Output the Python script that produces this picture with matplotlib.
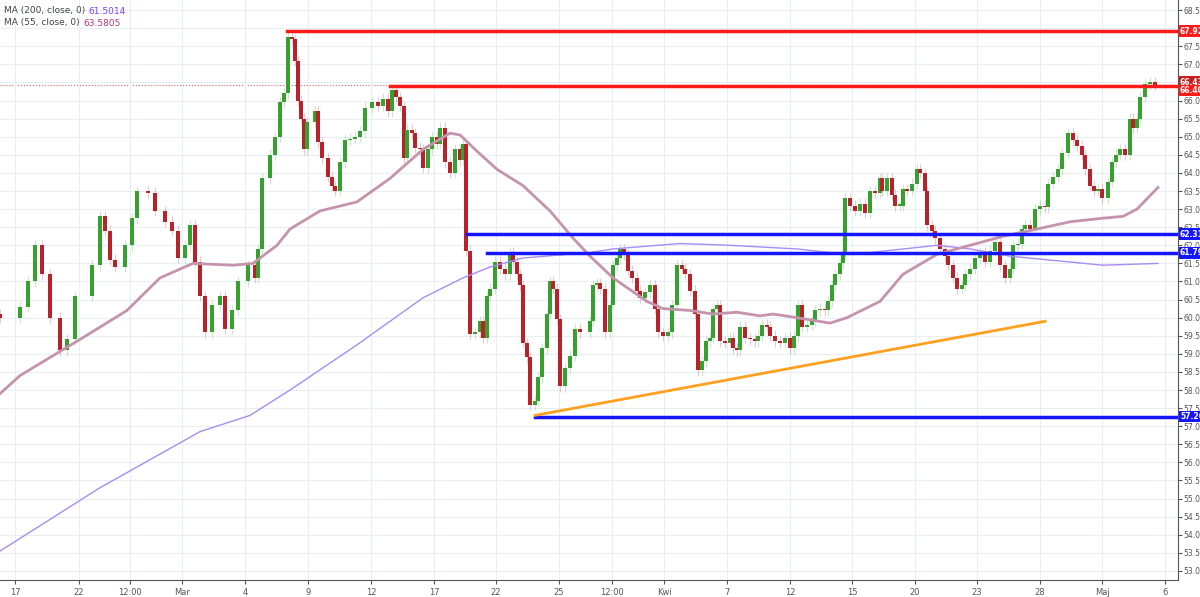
import matplotlib
matplotlib.use("Agg")
import matplotlib.pyplot as plt
import numpy as np

# bar times (chart time units, left to right) and closing prices
bar_t = [0, 20, 28, 35, 42, 50, 60, 67, 75, 92, 100, 105, 110, 115, 125, 132, 137, 148, 155,
         165, 172, 178, 185, 190, 195, 200, 205, 212, 220, 225, 232, 238, 248, 255, 258, 262,
         270, 275, 280, 284, 288, 292, 295, 298, 301, 304, 307, 315, 318, 322, 328, 332, 335,
         340, 345, 350, 355, 360, 365, 372, 378, 383, 388, 392, 396, 400, 404, 407, 412, 415,
         420, 423, 428, 432, 437, 440, 445, 450, 455, 460, 463, 466, 470, 475, 480, 483, 487,
         490, 495, 500, 505, 510, 513, 517, 520, 523, 527, 530, 535, 538, 542, 547, 550, 553,
         557, 560, 565, 570, 575, 580, 590, 593, 597, 600, 605, 610, 613, 617, 620, 624, 628,
         632, 637, 640, 645, 650, 655, 658, 663, 668, 672, 677, 682, 685, 690, 695, 698, 702,
         706, 710, 713, 717, 720, 725, 730, 733, 737, 740, 745, 750, 755, 758, 762, 767, 770,
         775, 780, 785, 790, 794, 798, 802, 807, 812, 815, 820, 825, 828, 832, 835, 840, 843,
         845, 850, 855, 860, 865, 870, 875, 880, 882, 887, 892, 895, 900, 903, 907, 912, 917,
         920, 925, 927, 932, 935, 940, 945, 948, 953, 957, 962, 965, 970, 975, 980, 985, 990,
         995, 1000, 1005, 1010, 1013, 1018, 1022, 1025, 1030, 1035, 1040, 1045, 1048, 1053,
         1058, 1062, 1068, 1073, 1077, 1082, 1085, 1090, 1094, 1098, 1102, 1108, 1112, 1116,
         1120, 1125, 1130, 1133, 1137, 1140, 1145, 1150, 1155]
closes = [60.0, 60.3, 61.0, 62.0, 61.2, 60.0, 59.1, 59.4, 60.6, 61.45, 62.8, 62.4, 61.6, 61.4,
          62.0, 62.75, 63.5, 63.45, 62.95, 62.65, 62.4, 61.65, 62.0, 62.55, 61.55, 60.6, 59.6,
          60.35, 60.6, 59.7, 60.2, 61.0, 61.45, 61.1, 61.9, 63.85, 64.5, 65.0, 65.95, 66.2,
          67.75, 67.7, 67.1, 66.0, 65.5, 64.65, 65.4, 65.7, 64.85, 64.4, 63.9, 63.65, 63.5,
          64.3, 64.9, 64.95, 65.0, 65.15, 65.8, 65.95, 65.85, 66.05, 65.7, 66.3, 66.1, 65.85,
          64.4, 65.2, 65.1, 64.7, 64.65, 64.15, 64.65, 65.0, 64.8, 65.25, 64.3, 64.0, 64.65,
          64.35, 64.8, 61.85, 59.55, 59.6, 59.9, 59.45, 60.6, 60.8, 61.55, 61.35, 61.2, 61.8,
          61.55, 61.2, 60.9, 59.3, 58.9, 57.6, 57.7, 58.35, 59.15, 60.1, 61.0, 60.8, 59.95,
          58.1, 58.6, 58.95, 59.7, 59.6, 59.9, 60.9, 60.95, 60.8, 59.6, 60.35, 61.45, 61.65,
          61.9, 61.75, 61.3, 61.1, 60.75, 60.55, 60.7, 60.9, 60.25, 59.6, 59.5, 59.6, 60.35,
          61.45, 61.35, 61.2, 60.75, 60.1, 58.55, 58.8, 59.35, 59.45, 60.25, 60.35, 59.35,
          59.3, 59.45, 59.15, 59.1, 59.75, 59.45, 59.4, 59.35, 59.5, 59.8, 59.75, 59.5, 59.35,
          59.3, 59.45, 59.15, 59.5, 60.35, 59.75, 59.8, 59.9, 60.2, 60.25, 60.2, 60.45, 60.9,
          61.2, 61.5, 61.8, 63.3, 63.1, 62.95, 63.15, 62.9, 63.5, 63.45, 63.85, 63.5, 63.85,
          63.4, 63.1, 63.1, 63.55, 63.5, 63.7, 64.1, 64.0, 63.5, 62.55, 62.4, 62.2, 61.9, 61.7,
          61.45, 61.1, 60.8, 60.9, 61.2, 61.35, 61.65, 61.8, 61.55, 61.85, 62.1, 61.45, 61.1,
          61.35, 62.0, 62.05, 62.45, 62.55, 62.45, 63.0, 63.1, 63.05, 63.7, 63.9, 64.1, 64.55,
          65.1, 64.9, 64.75, 64.5, 64.1, 63.65, 63.5, 63.55, 63.3, 63.75, 64.3, 64.5, 64.65,
          64.5, 65.5, 65.25, 65.5, 66.1, 66.45, 66.5, 66.43]
first_open = 60.1

# moving averages, sampled (time, value)
ma55_x = [0, 20, 83, 127, 160, 193, 233, 253, 277, 290, 320, 357, 390, 423, 450, 460, 477,
          497, 523, 550, 573, 590, 613, 647, 663, 690, 713, 737, 760, 773, 797, 830, 847,
          880, 903, 937, 970, 1003, 1037, 1070, 1103, 1123, 1137, 1158]
ma55_y = [57.9, 58.4, 59.45, 60.2, 61.1, 61.5, 61.45, 61.5, 62.0, 62.45, 62.95, 63.2, 63.85,
          64.65, 65.1, 65.05, 64.6, 64.1, 63.65, 62.95, 62.2, 61.7, 61.1, 60.45, 60.25, 60.2,
          60.1, 60.15, 60.05, 60.1, 60.0, 59.85, 60.0, 60.45, 61.2, 61.75, 62.0, 62.25, 62.45,
          62.65, 62.75, 62.8, 63.0, 63.6]
ma200_x = [0, 100, 200, 250, 290, 357, 423, 463, 490, 523, 590, 613, 680, 730, 797, 830,
           870, 937, 970, 1010, 1103, 1158]
ma200_y = [53.55, 55.3, 56.85, 57.3, 58.0, 59.25, 60.55, 61.1, 61.4, 61.65, 61.8, 61.9, 62.05,
           62.0, 61.9, 61.8, 61.8, 62.0, 61.9, 61.7, 61.45, 61.5]

levels = [67.92, 66.40, 62.31, 61.79, 57.26]
level_start = [287, 390, 467, 487, 535]
level_colors = ['#ff1a1a', '#ff1a1a', '#1515ff', '#1515ff', '#1515ff']
last_price = 66.43
trend_x = [535, 1045]
trend_y = [57.3, 59.9]

tick_t = [15, 79, 130, 182, 245, 308, 371, 434, 496, 559, 612, 664, 727, 790, 852, 915, 977,
          1040, 1102, 1165]
tick_labels = ['17', '22', '12:00', 'Mar', '4', '9', '12', '17', '22', '25', '12:00', 'Kwi',
               '7', '12', '15', '20', '23', '28', 'Maj', '6']

W, H = 1200, 597
fig = plt.figure(figsize=(W / 100, H / 100), dpi=100)
ax = fig.add_axes([0, 17 / H, 1178 / W, 580 / H])
ax.set_xlim(0, 1178)
ax.set_ylim(52.75, 68.78)

opens = [first_open] + closes[:-1]
green, red = '#37a12f', '#b8232b'
for x, o, c in zip(bar_t, opens, closes):
    col = green if c >= o else red
    lo, hi = min(o, c), max(o, c)
    ax.vlines(x, lo - 0.15, hi + 0.15, color=col, alpha=0.25, lw=0.8, zorder=2)
    ax.bar(x, max(hi - lo, 0.04), bottom=lo, width=3.2, color=col, lw=0, zorder=3)

ax.plot(ma200_x, ma200_y, color='#a88cf5', lw=1.0, zorder=4)
ax.plot(ma55_x, ma55_y, color='#c593ad', lw=2.0, zorder=4)

ax.axhline(last_price, color='#e06060', lw=0.8, ls=':', zorder=1)
for lv, xs0, col in zip(levels, level_start, level_colors):
    ax.plot([xs0, 1178], [lv, lv], color=col, lw=2.5, zorder=5)
ax.plot(trend_x, trend_y, color='#ffa020', lw=2.0, zorder=5)

yt = np.arange(53.0, 68.51, 0.5)
ax.set_yticks(yt)
ax.set_yticklabels([f'{v:.2f}' for v in yt])
ax.yaxis.tick_right()
ax.tick_params(axis='y', labelsize=5.5, colors='#555555', length=3, pad=1)
ax.set_xticks(tick_t)
ax.set_xticklabels(tick_labels)
ax.tick_params(axis='x', labelsize=6, colors='#555555', length=3, pad=3)
ax.grid(True, color='#e8eef4', lw=0.8, zorder=0)
for s in ['top', 'left']:
    ax.spines[s].set_visible(False)
ax.spines['right'].set_color('#555555')
ax.spines['bottom'].set_color('#555555')

box_vals = [67.92, 66.43, 66.40, 62.31, 61.79, 57.26]
box_cols = ['#ff1a1a', '#c81e1e', '#ff1a1a', '#1515ff', '#1515ff', '#1515ff']
box_off = [0, 0.08, -0.12, 0, 0, 0]
for v, c, d in zip(box_vals, box_cols, box_off):
    ax.text(1180, v + d, f'{v:.2f}', color='white', fontsize=5.5, va='center', ha='left',
            fontweight='bold', clip_on=False, zorder=10,
            bbox=dict(boxstyle='square,pad=0.15', fc=c, ec='none'))

fig.text(4 / W, 1 - 11 / H, 'MA (200, close, 0)', fontsize=6.5, color='#444444', va='center')
fig.text(88 / W, 1 - 11 / H, '61.5014', fontsize=6.5, color='#7b3cff', va='center')
fig.text(4 / W, 1 - 23 / H, 'MA (55, close, 0)', fontsize=6.5, color='#444444', va='center')
fig.text(83 / W, 1 - 23 / H, '63.5805', fontsize=6.5, color='#b03a7a', va='center')

fig.savefig('out.png', dpi=100, facecolor='white')
